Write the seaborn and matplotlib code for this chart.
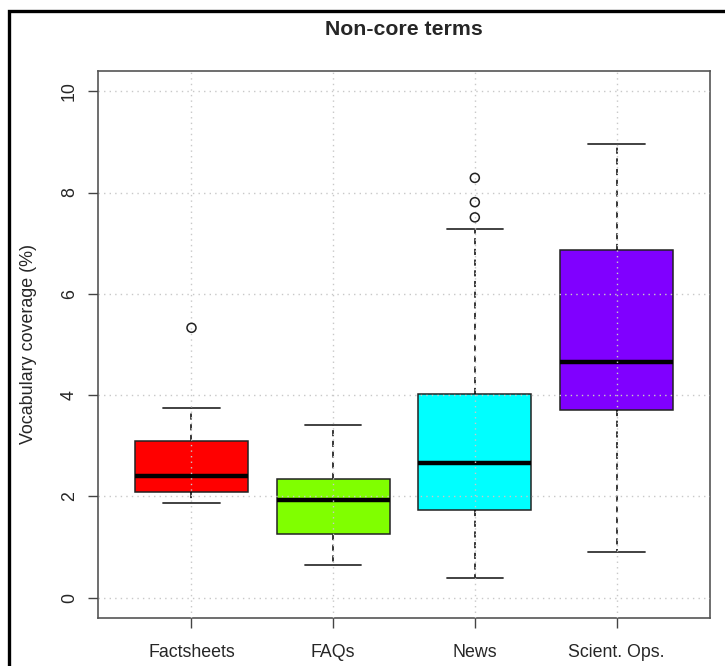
import numpy as np
import pandas as pd
import matplotlib
matplotlib.use("Agg")
import matplotlib.pyplot as plt
from matplotlib.patches import Rectangle
import seaborn as sns

# Five-number summaries (vocabulary coverage, %) per text genre
categories = ["Factsheets", "FAQs", "News", "Scient. Ops."]
whisker_low = [1.88, 0.65, 0.39, 0.91]
q1 = [2.08, 1.26, 1.73, 3.71]
median = [2.40, 1.92, 2.66, 4.65]
q3 = [3.10, 2.34, 4.02, 6.86]
whisker_high = [3.74, 3.41, 7.28, 8.95]

# Points beyond the whiskers
outlier_cats = ["Factsheets", "News", "News", "News"]
outlier_vals = [5.33, 7.51, 7.81, 8.29]

colors = ["#FF0000", "#80FF00", "#00FFFF", "#8000FF"]
y_ticks = [0, 2, 4, 6, 8, 10]

sns.set_style("white")
plt.rcParams["font.family"] = ["Liberation Sans", "DejaVu Sans"]

rows = []
for i, c in enumerate(categories):
    for v in (whisker_low[i], q1[i], median[i], q3[i], whisker_high[i]):
        rows.append({"genre": c, "coverage": v})
summary = pd.DataFrame(rows)
fliers = pd.DataFrame({"genre": outlier_cats, "coverage": outlier_vals})

fig = plt.figure(figsize=(7.25, 6.66), dpi=100)
ax = fig.add_axes([98 / 725, 1 - 618 / 666, (710 - 98) / 725, (618 - 71) / 666])

sns.boxplot(
    data=summary, x="genre", y="coverage", hue="genre", order=categories,
    hue_order=categories, palette=colors, saturation=1, width=0.8,
    whis=(0, 100), showfliers=False, legend=False, linecolor="#222222",
    linewidth=1.1, ax=ax,
    medianprops=dict(color="black", linewidth=3.2),
    whiskerprops=dict(color="black", linestyle=(0, (4, 3)), linewidth=1.1),
    capprops=dict(color="#333333", linewidth=1.3),
)
sns.scatterplot(
    data=fliers, x="genre", y="coverage", marker="o", s=42,
    facecolor="none", edgecolor="#222222", linewidth=1.1, ax=ax, zorder=3,
)

ax.set_xlim(-0.66, 3.66)
ax.set_ylim(-0.4, 10.4)
ax.set_yticks(y_ticks)
ax.set_yticklabels([str(t) for t in y_ticks], rotation=90, va="center")
ax.set_xticks(range(len(categories)))
ax.set_xticklabels(categories)

ax.set_axisbelow(False)
ax.grid(True, color="#c8c8c8", linestyle=(0, (1, 3)), linewidth=1.0)

ax.tick_params(axis="both", direction="out", length=7.5, width=1, color="#444444",
               labelsize=12.8, left=True, bottom=True)
ax.tick_params(axis="x", pad=11)
ax.tick_params(axis="y", pad=7)
for s in ax.spines.values():
    s.set_color("#555555")
    s.set_linewidth(1.2)

ax.set_xlabel("")
ax.set_ylabel("Vocabulary coverage (%)", fontsize=12.9, labelpad=17)
ax.set_title("Non-core terms", fontsize=15.3, fontweight="bold", pad=26)

# Outer frame around the whole figure
fig.patches.append(Rectangle((9 / 725, -0.05), 1.1, 1 - 11 / 666 + 0.05,
                             transform=fig.transFigure, fill=False,
                             edgecolor="black", linewidth=2.4, clip_on=False))

fig.savefig("out.png", dpi=100)
